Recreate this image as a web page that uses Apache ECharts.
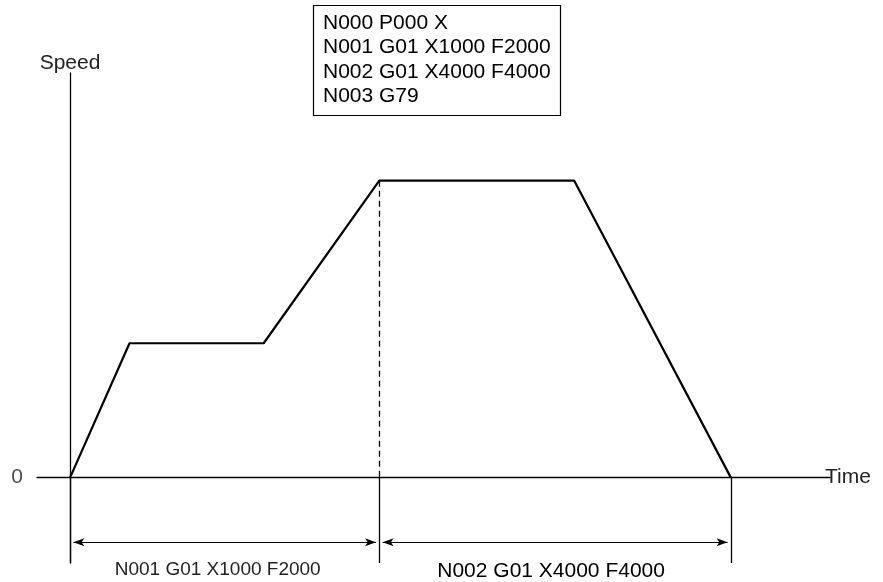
<!DOCTYPE html>
<html><head><meta charset="utf-8">
<script src="https://cdn.jsdelivr.net/npm/echarts@6/dist/echarts.min.js"></script>
<style>html,body{margin:0;padding:0;background:#fff}#c{width:883px;height:582px}</style>
</head><body><div id="c"></div>
<script>
// ---- data ----
const times = [0, 9.0, 29.3, 46.8, 76.3, 100];
const speeds = [0, 1810, 1810, 4000, 4000, 0];
const programLines = ['N000 P000 X', 'N001 G01 X1000 F2000', 'N002 G01 X4000 F4000', 'N003 G79'];
const segmentLabels = ['N001 G01 X1000 F2000', 'N002 G01 X4000 F4000'];
const segmentBounds = [0, 46.8, 100];
const peakSpeed = 4000;
const yTickLabels = [0];
const xName = 'Time', yName = 'Speed';

// ---- layout constants ----
const dimLevel = -870;      // speed-axis level of the dimension arrows
const extBottom = -1150;    // bottom of the extension lines
const arrowGap = 0.5;       // small gap between arrow tips and extension lines
const FONT = 'Liberation Sans';

const chart = echarts.init(document.getElementById('c'));

const mlData = [];
// dashed guide at the block boundary
mlData.push([{coord: [segmentBounds[1], peakSpeed], symbol: 'none'},
             {coord: [segmentBounds[1], 0], symbol: 'none',
              lineStyle: {type: [6, 4], width: 1.3, color: '#000'}}]);
// extension lines
segmentBounds.forEach(b => {
  mlData.push([{coord: [b, 0], symbol: 'none'},
               {coord: [b, extBottom], symbol: 'none', lineStyle: {type: 'solid', width: 1.3, color: '#000'}}]);
});
// dimension arrows with labels
segmentLabels.forEach((lab, i) => {
  mlData.push([
    {coord: [segmentBounds[i] + arrowGap, dimLevel], symbol: 'arrow', symbolSize: [6, 11]},
    {coord: [segmentBounds[i + 1] - arrowGap, dimLevel], symbol: 'arrow', symbolSize: [6, 11],
     lineStyle: {type: 'solid', width: 1.2, color: '#000'},
     label: {show: true, formatter: lab, position: 'insideMiddleBottom', distance: 18,
             padding: i === 0 ? [0, 14, 0, 0] : [0, 8, 0, 0],
             fontSize: i === 0 ? 19 : 21, color: i === 0 ? '#222' : '#000', fontFamily: FONT}}
  ]);
});

chart.setOption({
  animation: false,
  backgroundColor: '#fff',
  title: {
    text: programLines.join('\n'),
    left: 313, top: 5,
    borderColor: '#000', borderWidth: 1.2,
    padding: [6, 10, 8, 10],
    textStyle: {fontSize: 21, fontWeight: 'normal', color: '#000', lineHeight: 24.3, fontFamily: FONT}
  },
  grid: {left: 37, right: 53, top: 73, bottom: 19, containLabel: false, outerBoundsMode: 'none'},
  xAxis: {
    type: 'value', min: -5, max: 115,
    axisLine: {show: true, onZero: true, lineStyle: {color: '#000', width: 1.3}},
    axisTick: {show: false}, axisLabel: {show: false}, splitLine: {show: false},
    name: xName, nameLocation: 'end', nameGap: -5,
    nameTextStyle: {fontSize: 21, color: '#222', fontFamily: FONT, verticalAlign: 'middle'}
  },
  yAxis: {
    type: 'value', min: -1150, max: 5450,
    axisLine: {show: true, onZero: true, lineStyle: {color: '#000', width: 1.3}},
    axisTick: {show: false}, splitLine: {show: false}, axisLabel: {show: false},
    name: yName, nameLocation: 'end', nameGap: -1,
    nameTextStyle: {fontSize: 21, color: '#222', fontFamily: FONT}
  },
  series: [{
    type: 'line',
    data: times.map((t, i) => [t, speeds[i]]),
    symbol: 'none',
    lineStyle: {color: '#000', width: 2.2},
    z: 5,
    markLine: {
      silent: true,
      symbol: ['none', 'none'],
      lineStyle: {color: '#000', width: 1.3, type: 'solid'},
      label: {show: false},
      data: mlData
    }
  }, {
    // speed-axis tick label(s)
    type: 'scatter',
    data: yTickLabels.map(v => [0, v]),
    symbolSize: 0,
    silent: true,
    label: {show: true, position: 'left', distance: 47, formatter: p => String(p.value[1]),
            fontSize: 21, color: '#222', fontFamily: FONT}
  }]
});
</script></body></html>
